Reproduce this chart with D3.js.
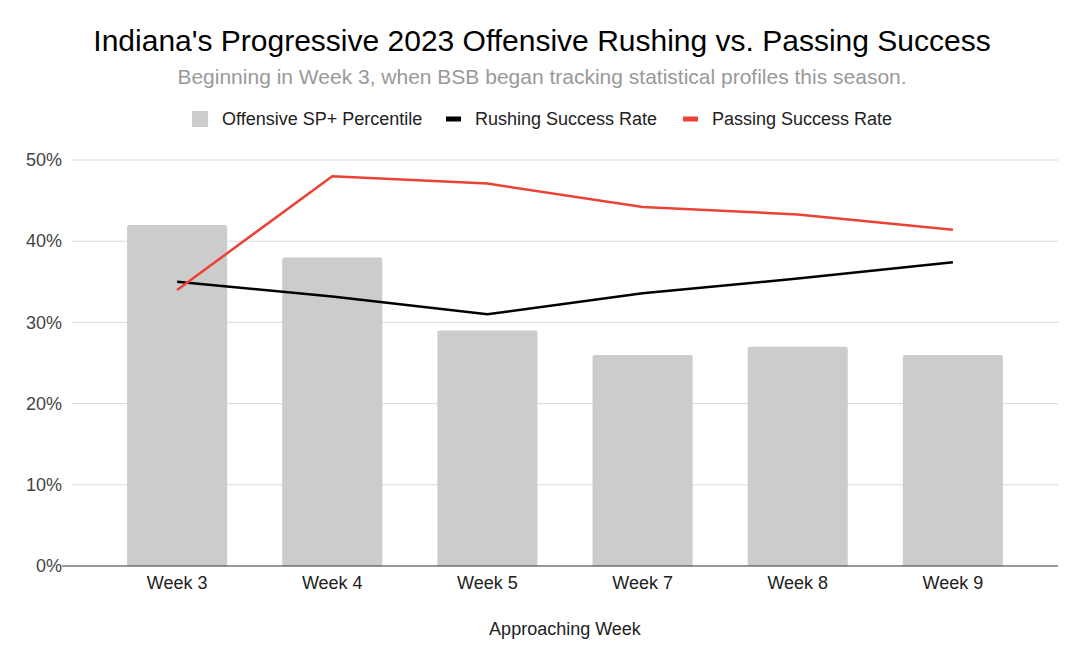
<!DOCTYPE html>
<html>
<head>
<meta charset="utf-8">
<title>Indiana Rushing vs Passing Success</title>
<style>
	body { margin: 0; background: #fff; }
	svg { display: block; font-family: "Liberation Sans", Arial, sans-serif; }
	.grid line { stroke: #d9d9d9; stroke-width: 1; }
	.axis text { font-size: 18px; fill: #444; }
</style>
</head>
<body>
<div id="chart"></div>
<script src="https://d3js.org/d3.v7.min.js"></script>
<script>
// data
var weeks = ["Week 3", "Week 4", "Week 5", "Week 7", "Week 8", "Week 9"];
var spPercentile = [0.42, 0.38, 0.29, 0.26, 0.27, 0.26];
var rushingRate = [0.35, 0.332, 0.31, 0.336, 0.354, 0.374];
var passingRate = [0.34, 0.48, 0.471, 0.442, 0.433, 0.414];
var yTicks = [0, 0.1, 0.2, 0.3, 0.4, 0.5];

var W = 1076, H = 661;
var plotLeft = 72, plotRight = 1058, plotTop = 160, plotBottom = 566;

var svg = d3.select("#chart").append("svg")
	.attr("width", W).attr("height", H);

var x = d3.scaleBand()
	.domain(weeks)
	.range([plotLeft, plotRight])
	.paddingInner(0.355)
	.paddingOuter(0.355);

var y = d3.scaleLinear()
	.domain([0, 0.5])
	.range([plotBottom, plotTop]);

// titles
svg.append("text")
	.attr("x", 542).attr("y", 51)
	.attr("text-anchor", "middle")
	.style("font-size", "30px").style("fill", "#000")
	.text("Indiana's Progressive 2023 Offensive Rushing vs. Passing Success");
svg.append("text")
	.attr("x", 542).attr("y", 84)
	.attr("text-anchor", "middle")
	.style("font-size", "21px").style("fill", "#999")
	.text("Beginning in Week 3, when BSB began tracking statistical profiles this season.");

// legend
var legend = [
	{ label: "Offensive SP+ Percentile", color: "#cccccc", x: 192, w: 16, h: 16 },
	{ label: "Rushing Success Rate", color: "#000000", x: 446, w: 15, h: 5 },
	{ label: "Passing Success Rate", color: "#ea4335", x: 683, w: 15, h: 5 }
];
var lg = svg.append("g").selectAll("g").data(legend).enter().append("g");
lg.append("rect")
	.attr("x", function(d) { return d.x; })
	.attr("y", function(d) { return 119 - d.h / 2; })
	.attr("width", function(d) { return d.w; })
	.attr("height", function(d) { return d.h; })
	.attr("fill", function(d) { return d.color; });
lg.append("text")
	.attr("x", function(d) { return d.x + d.w + 14; })
	.attr("y", 125)
	.style("font-size", "18px").style("fill", "#222")
	.text(function(d) { return d.label; });

// gridlines
svg.append("g").attr("class", "grid")
	.selectAll("line")
	.data(yTicks.slice(1))
	.enter().append("line")
	.attr("x1", plotLeft).attr("x2", plotRight)
	.attr("y1", function(d) { return y(d); })
	.attr("y2", function(d) { return y(d); });

// y axis labels
var yAxis = svg.append("g").attr("class", "axis")
	.attr("transform", "translate(" + (plotLeft - 10) + ",0)")
	.call(d3.axisLeft(y).tickValues(yTicks).tickFormat(d3.format(".0%")).tickSize(0).tickPadding(0));
yAxis.select(".domain").remove();

// bars
svg.append("g").selectAll("path")
	.data(spPercentile)
	.enter().append("path")
	.attr("fill", "#cccccc")
	.attr("d", function(d, i) {
		var x0 = x(weeks[i]), bw = x.bandwidth(), y0 = y(d), r = 2;
		return "M" + x0 + "," + plotBottom + "V" + (y0 + r) +
			"Q" + x0 + "," + y0 + " " + (x0 + r) + "," + y0 +
			"H" + (x0 + bw - r) +
			"Q" + (x0 + bw) + "," + y0 + " " + (x0 + bw) + "," + (y0 + r) +
			"V" + plotBottom + "Z";
	});

// x axis
var xAxis = svg.append("g").attr("class", "axis")
	.attr("transform", "translate(0," + plotBottom + ")")
	.call(d3.axisBottom(x).tickSize(0).tickPadding(10));
xAxis.select(".domain").remove();
xAxis.selectAll("text").style("fill", "#222");
svg.append("line")
	.attr("x1", 62).attr("x2", plotRight)
	.attr("y1", plotBottom).attr("y2", plotBottom)
	.attr("stroke", "#333").attr("stroke-width", 1.2);

// lines
var line = d3.line()
	.x(function(d, i) { return x(weeks[i]) + x.bandwidth() / 2; })
	.y(function(d) { return y(d); });

svg.append("path")
	.datum(rushingRate)
	.attr("fill", "none").attr("stroke", "#000").attr("stroke-width", 2.5)
	.attr("d", line);
svg.append("path")
	.datum(passingRate)
	.attr("fill", "none").attr("stroke", "#ea4335").attr("stroke-width", 2.5)
	.attr("d", line);

// x axis title
svg.append("text")
	.attr("x", 565).attr("y", 635)
	.attr("text-anchor", "middle")
	.style("font-size", "18px").style("fill", "#222")
	.text("Approaching Week");
</script>
</body>
</html>
